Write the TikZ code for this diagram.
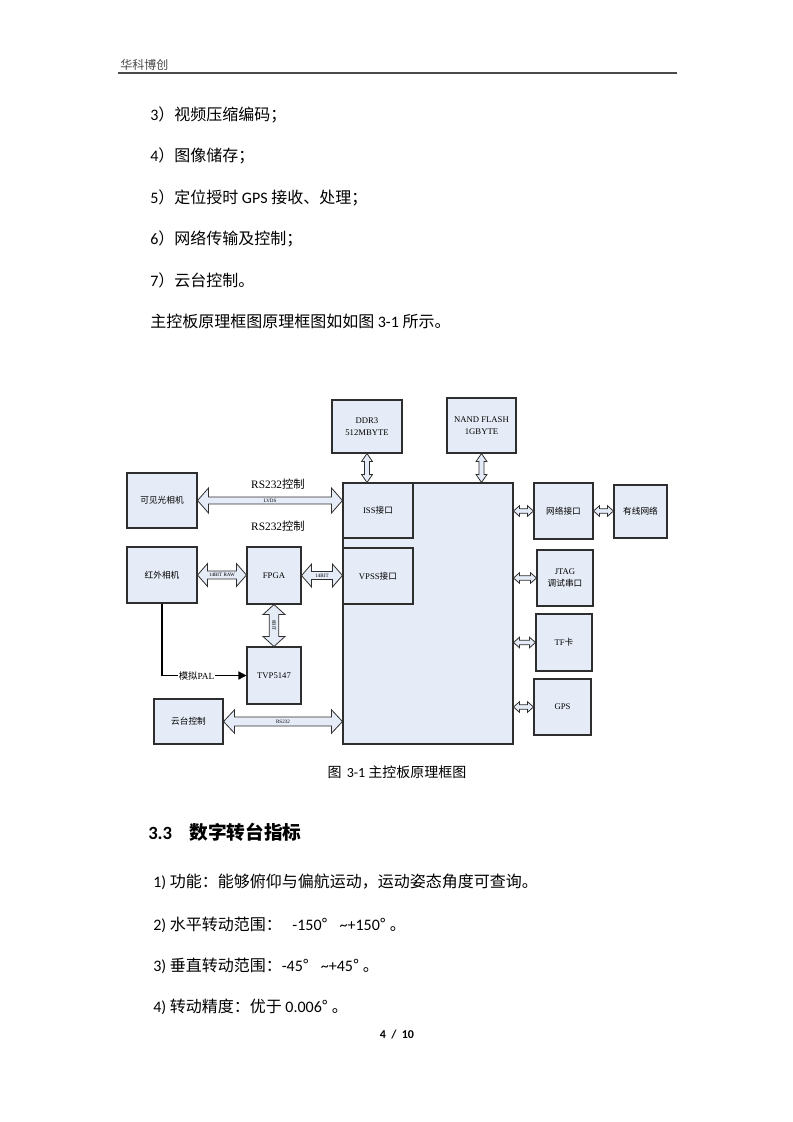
\documentclass[tikz,border=0pt]{standalone}
\usepackage{fontspec}
\setmainfont{Noto Sans CJK SC}
\newfontfamily\lat{Carlito}
\newfontfamily\tms{Liberation Serif}
\usetikzlibrary{calc,arrows.meta}
\definecolor{boxfill}{HTML}{E6ECF7}
\definecolor{boxline}{HTML}{2E2E2E}
\definecolor{hdrgray}{HTML}{4A4A4A}
\newcommand\mkbox[6]{\node[blk, minimum width={(#4-#2)*0.75pt}, minimum height={(#5-#3)*0.75pt}] (#1) at ({(#2+#4)/2},{(#3+#5)/2}) {#6};}
\newcommand\hdbl[5]{\path[arr] let \p1=#1, \p2=#2 in (\x1,\y1) -- (\x1+#5,\y1+#4) -- (\x1+#5,\y1+#3) -- (\x2-#5,\y1+#3) -- (\x2-#5,\y1+#4) -- (\x2,\y1) -- (\x2-#5,\y1-#4) -- (\x2-#5,\y1-#3) -- (\x1+#5,\y1-#3) -- (\x1+#5,\y1-#4) -- cycle;}
\newcommand\vdbl[5]{\path[arr] let \p1=#1, \p2=#2 in (\x1,\y1) -- (\x1+#4,\y1-#5) -- (\x1+#3,\y1-#5) -- (\x1+#3,\y2+#5) -- (\x1+#4,\y2+#5) -- (\x1,\y2) -- (\x1-#4,\y2+#5) -- (\x1-#3,\y2+#5) -- (\x1-#3,\y1-#5) -- (\x1-#4,\y1-#5) -- cycle;}
\begin{document}
\begin{tikzpicture}[x=0.75pt,y=-0.75pt,
  blk/.style={draw=boxline, fill=boxfill, line width=0.8pt, inner sep=1pt, align=center, font=\fontsize{6.5}{8.5}\selectfont},
  arr/.style={draw=boxline, fill=boxfill, line width=0.6pt, line join=miter},
  tiny/.style={font=\tms\fontsize{3.8}{4}\selectfont, inner sep=0},
  body/.style={anchor=west, inner sep=0, font=\fontsize{12}{14}\selectfont},
  lbl/.style={inner sep=0, font=\fontsize{8.5}{10}\selectfont}]
\fill[white] (0,0) rectangle (793,1122);
\useasboundingbox (0,0) rectangle (793,1122);

% header
\node[anchor=west, inner sep=0, text=hdrgray, font=\fontsize{9}{10}\selectfont] (hdr) at (120,65) {华科博创};
\draw[hdrgray, line width=1.1pt] (118,73) -- (677,73);

% body text top
\node[body] (t3) at (150,115) {{\lat 3}）视频压缩编码；};
\node[body] (t4) at (150,156) {{\lat 4}）图像储存；};
\node[body] (t5) at (150,198) {{\lat 5}）定位授时 {\lat GPS} 接收、处理；};
\node[body] (t6) at (150,239) {{\lat 6}）网络传输及控制；};
\node[body] (t7) at (150,280) {{\lat 7}）云台控制。};
\node[body] (t8) at (150,321) {主控板原理框图原理框图如如图 {\lat 3-1} 所示。};

% diagram boxes
\mkbox{ddr}{332}{400}{402}{453}{{\tms DDR3}\\{\tms 512MBYTE}}
\mkbox{nand}{447}{398}{516}{453}{{\tms NAND FLASH}\\{\tms 1GBYTE}}
\mkbox{main}{343}{483}{513}{744}{}
\mkbox{iss}{343}{483}{413}{538}{{\tms ISS}接口}
\mkbox{vpss}{343}{548}{413}{604}{{\tms VPSS}接口}
\mkbox{cam}{127}{473}{197}{528}{可见光相机}
\mkbox{ir}{127}{547}{197}{603}{红外相机}
\mkbox{fpga}{247}{547}{301}{604}{\tms FPGA}
\mkbox{tvp}{247}{647}{301}{704}{\tms TVP5147}
\mkbox{ptz}{154}{699}{223}{744}{云台控制}
\mkbox{net}{534}{483}{593}{539}{网络接口}
\mkbox{wired}{614}{485}{667}{538}{有线网络}
\mkbox{jtag}{537}{550}{593}{606}{{\tms JTAG}\\调试串口}
\mkbox{tf}{536}{614}{592}{671}{{\tms TF}卡}
\mkbox{gps}{534}{679}{591}{735}{\tms GPS}

% block arrows
\hdbl{(cam.east)}{(cam.east -| iss.west)}{2.6pt}{9.4pt}{8.25pt}
\node[tiny] (lvds) at ($(cam.east)!0.5!(cam.east -| iss.west)$) {LVDS};
\hdbl{(ir.east)}{(ir.east -| fpga.west)}{3pt}{8.6pt}{7.5pt}
\node[tiny] (raw) at ($(ir.east)!0.5!(ir.east -| fpga.west)$) {14BIT RAW};
\hdbl{(fpga.east)}{(fpga.east -| vpss.west)}{3pt}{8.6pt}{7.5pt}
\node[tiny] (b14) at ($(fpga.east)!0.5!(fpga.east -| vpss.west)$) {14BIT};
\vdbl{(fpga.south)}{(fpga.south |- tvp.north)}{3.6pt}{8.25pt}{7.5pt}
\node[tiny, rotate=-90] (b8) at ($(fpga.south)!0.5!(fpga.south |- tvp.north)$) {8BIT};
\vdbl{(ddr.south)}{(ddr.south |- main.north)}{1.9pt}{4.1pt}{6pt}
\vdbl{(nand.south)}{(nand.south |- main.north)}{1.9pt}{4.1pt}{6pt}
\hdbl{(main.east |- net.west)}{(net.west)}{1.75pt}{4pt}{4.5pt}
\hdbl{(main.east |- jtag.west)}{(jtag.west)}{1.75pt}{4pt}{4.5pt}
\hdbl{(main.east |- tf.west)}{(tf.west)}{1.75pt}{4pt}{4.5pt}
\hdbl{(main.east |- gps.west)}{(gps.west)}{1.75pt}{4pt}{4.5pt}
\hdbl{(net.east)}{(net.east -| wired.west)}{1.75pt}{4pt}{4.5pt}
\hdbl{(ptz.east)}{(ptz.east -| main.west)}{3.4pt}{8.8pt}{8.25pt}
\node[tiny] (rsb) at ($(ptz.east)!0.5!(ptz.east -| main.west)$) {RS232};

% labels
\node[lbl] (rs1) at (278,484) {{\tms RS232}控制};
\node[lbl] (rs2) at (278,526) {{\tms RS232}控制};

% analog PAL
\draw[line width=1.1pt, -{Triangle[length=6pt,width=6pt]}] (ir.south) |- (tvp.west)
  node[pos=0.705, fill=white, inner sep=0.6pt, font=\fontsize{7}{8}\selectfont] (pal) {模拟{\tms PAL}};

% caption
\node[inner sep=0, font=\fontsize{10.5}{12}\selectfont] (cap) at (397,772) {图\hspace{4pt}{\lat 3-1} 主控板原理框图};

% section heading
\node[anchor=west, inner sep=0, font=\bfseries\fontsize{14}{16}\selectfont] (sec) at (148,832) {{\lat\bfseries 3.3}\hspace{13pt}数字转台指标};

% list
\node[body] (l1) at (153,882) {{\lat 1)} 功能：能够俯仰与偏航运动，运动姿态角度可查询。};
\node[body] (l2) at (153,925) {{\lat 2)} 水平转动范围：\hspace{8pt}{\lat -150}°\hspace{9pt}{\lat\textasciitilde+150}°\hspace{3pt}。};
\node[body] (l3) at (153,966) {{\lat 3)} 垂直转动范围：{\lat -45}°\hspace{9pt}{\lat\textasciitilde+45}°\hspace{3pt}。};
\node[body] (l4) at (153,1007) {{\lat 4)} 转动精度：优于 {\lat 0.006}°\hspace{3pt}。};

% page number
\node[inner sep=0, font=\lat\bfseries\fontsize{9}{10}\selectfont] (pg) at (397,1035) {4\hspace{4pt}/\hspace{4pt}10};
\end{tikzpicture}
\end{document}
